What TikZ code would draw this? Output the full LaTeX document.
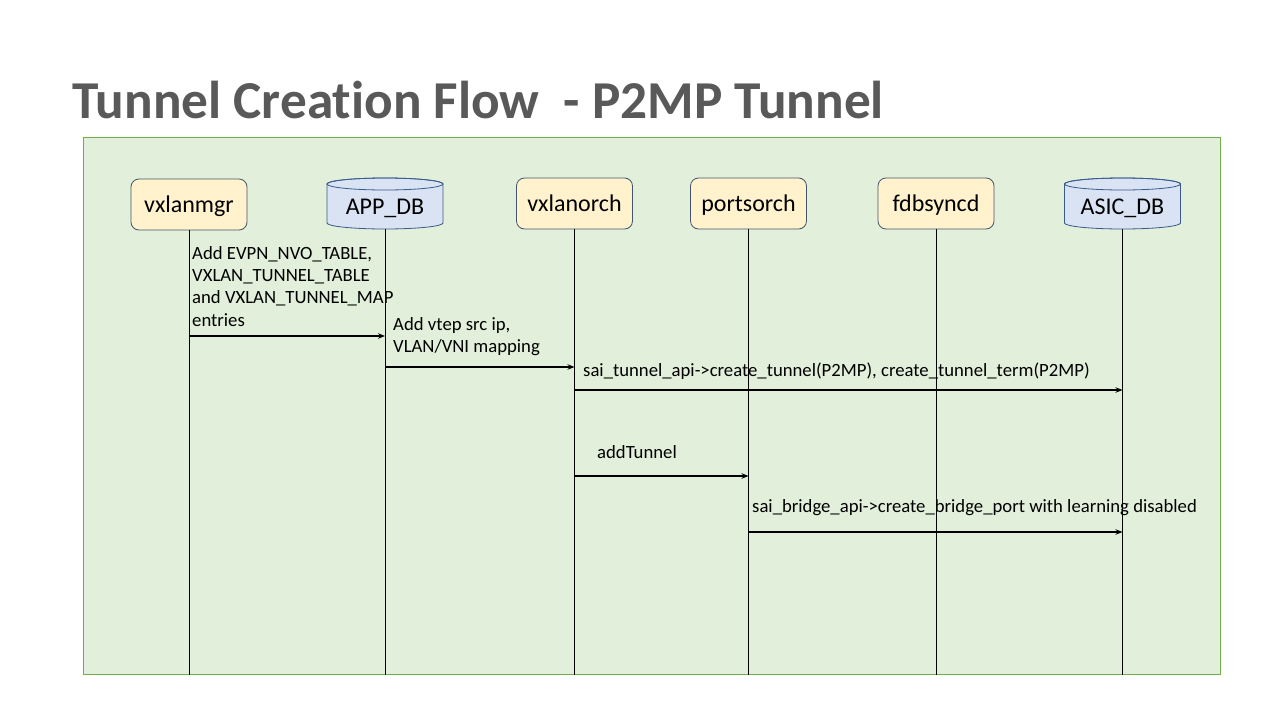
\documentclass[tikz,border=0pt]{standalone}
\usepackage{fontspec}
\setmainfont{Carlito}[Ligatures=NoCommon]
\usetikzlibrary{arrows.meta}
\definecolor{titlegray}{HTML}{595959}
\definecolor{panelfill}{HTML}{E2EFDA}
\definecolor{panelline}{HTML}{70AD47}
\definecolor{procfill}{HTML}{FFF2CC}
\definecolor{procline}{HTML}{44546A}
\definecolor{dbfillc}{HTML}{DAE3F3}
\definecolor{dblinec}{HTML}{3A5A8C}
\newcommand{\dbcyl}[4]{%
  \node[dbnode] (#1) at (#2,#3) {};
  \filldraw[dbshape] (#2-58,#3-19.5) -- (#2-58,#3+19.5)
     arc[start angle=180,end angle=360,x radius=58pt,y radius=6pt]
     -- (#2+58,#3-19.5)
     arc[start angle=0,end angle=180,x radius=58pt,y radius=6pt] -- cycle;
  \draw[dbshape,fill=none] (#2,#3-19.5) ellipse [x radius=58pt,y radius=6pt];
  \node[dbtext, anchor=base] at (#2,214.5) {#4};
}
\begin{document}
\begin{tikzpicture}[x=1pt,y=-1pt,
  proc/.style={draw=procline, fill=procfill, rounded corners=8pt,
    minimum width=116pt, minimum height=51pt, inner sep=0pt, line width=0.8pt,
    text height=18pt, text depth=3pt,
    font=\fontsize{24}{28}\selectfont},
  dbnode/.style={minimum width=116pt, minimum height=51pt, inner sep=0pt},
  dbshape/.style={draw=dblinec, fill=dbfillc, line width=0.8pt},
  dbtext/.style={inner sep=0pt, font=\fontsize{24}{28}\selectfont},
  life/.style={draw=black, line width=1pt},
  msg/.style={draw=black, line width=1.6pt, -{Stealth[length=7pt,width=5.5pt]}},
  lbl/.style={inner sep=0pt, font=\fontsize{18.7}{22.4}\selectfont, align=left},
]
\useasboundingbox (0,0) rectangle (1280,720);
\fill[white] (0,0) rectangle (1280,720);

\node[anchor=base west, inner sep=0pt, text=titlegray,
  font=\bfseries\fontsize{53.3}{64}\selectfont] (title) at (72,118.5)
  {Tunnel Creation Flow\ \ - P2MP Tunnel};

\node[draw=panelline, fill=panelfill, line width=0.8pt, anchor=north west,
  minimum width=1137pt, minimum height=537pt, inner sep=0pt] (panel) at (83,137) {};

\node[proc] (vxlanmgr) at (189,204.5) {vxlanmgr};
\dbcyl{appdb}{385}{203.5}{APP\_DB}
\node[proc] (vxlanorch) at (574.5,203.5) {vxlanorch};
\node[proc] (portsorch) at (748.5,203.5) {portsorch};
\node[proc] (fdbsyncd) at (936,203.5) {fdbsyncd};
\dbcyl{asicdb}{1122.5}{203.5}{ASIC\_DB}

\foreach \n in {vxlanmgr,appdb,vxlanorch,portsorch,fdbsyncd,asicdb}
  \draw[life] (\n.south) -- (\n.south |- panel.south);

\draw[msg] (vxlanmgr.south |- 0,336) -- (appdb.south |- 0,336);
\draw[msg] (appdb.south |- 0,367) -- (vxlanorch.south |- 0,367);
\draw[msg] (vxlanorch.south |- 0,390) -- (asicdb.south |- 0,390);
\draw[msg] (vxlanorch.south |- 0,476) -- (portsorch.south |- 0,476);
\draw[msg] (portsorch.south |- 0,532) -- (asicdb.south |- 0,532);

\node[lbl, anchor=north west] (l1) at (192,246)
  {Add EVPN\_NVO\_TABLE,\\VXLAN\_TUNNEL\_TABLE\\and VXLAN\_TUNNEL\_MAP\\entries};
\node[lbl, anchor=north west] (l2) at (393,317)
  {Add vtep src ip,\\VLAN/VNI mapping};
\node[lbl, anchor=base west] (l3) at (583,376)
  {sai\_tunnel\_api->create\_tunnel(P2MP), create\_tunnel\_term(P2MP)};
\node[lbl, anchor=base west] (l4) at (597,458) {addTunnel};
\node[lbl, anchor=base west] (l5) at (752,512)
  {sai\_bridge\_api->create\_bridge\_port with learning disabled};
\end{tikzpicture}
\end{document}
